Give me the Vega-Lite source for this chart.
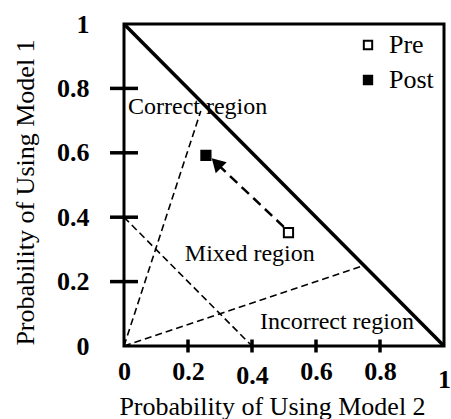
{
  "$schema": "https://vega.github.io/schema/vega-lite/v6.json",
  "autosize": "none",
  "width": 320,
  "height": 322,
  "padding": {"left": 124, "top": 24, "right": 7, "bottom": 73},
  "background": "white",
  "config": {
    "view": {"stroke": "black", "strokeWidth": 3},
    "font": "Liberation Serif"
  },
  "datasets": {
    "diag": [{"m2": 0, "m1": 1}, {"m2": 1, "m1": 0}],
    "dashed": [
      {"seg": "a", "m2": 0, "m1": 0}, {"seg": "a", "m2": 0.24, "m1": 0.73},
      {"seg": "b", "m2": 0, "m1": 0}, {"seg": "b", "m2": 0.75, "m1": 0.25},
      {"seg": "c", "m2": 0, "m1": 0.4}, {"seg": "c", "m2": 0.4, "m1": 0}
    ],
    "ticks": [{"v": 0.2}, {"v": 0.4}, {"v": 0.6}, {"v": 0.8}],
    "arrow": [{"m2": 0.514, "m1": 0.356}, {"m2": 0.295, "m1": 0.562}],
    "head": [{"m2": 0.289, "m1": 0.568}],
    "points": [
      {"phase": "Pre", "m2": 0.514, "m1": 0.352},
      {"phase": "Post", "m2": 0.256, "m1": 0.592}
    ],
    "labels": [
      {"label": "Correct region", "m2": 0.0125, "m1": 0.742},
      {"label": "Mixed region", "m2": 0.19, "m1": 0.286},
      {"label": "Incorrect region", "m2": 0.425, "m1": 0.075}
    ]
  },
  "layer": [
    {
      "data": {"name": "dashed"},
      "mark": {"type": "line", "color": "black", "strokeWidth": 1.6, "strokeDash": [7, 4]},
      "encoding": {
        "x": {
          "field": "m2", "type": "quantitative",
          "scale": {"domain": [0, 1], "nice": false, "zero": false},
          "axis": {
            "orient": "bottom",
            "values": [0, 0.2, 0.4, 0.6, 0.8, 1],
            "format": "~g",
            "domain": false,
            "grid": false,
            "ticks": false,
            "labelFont": "Liberation Serif",
            "labelFontWeight": "bold",
            "labelFontSize": 26,
            "labelColor": "black",
            "labelPadding": {"condition": [{"test": "datum.value == 1", "value": 20}, {"test": "datum.value == 0.4", "value": 16}], "value": 12},
            "labelFlush": false,
            "labelOverlap": false,
            "title": "Probability of Using Model 2",
            "titleFont": "Liberation Serif",
            "titleFontSize": 26,
            "titleFontWeight": "normal",
            "titleColor": "black",
            "titleBaseline": "middle",
            "titleAnchor": "middle",
            "titleX": 148,
            "titleY": 60
          }
        },
        "y": {
          "field": "m1", "type": "quantitative",
          "scale": {"domain": [0, 1], "nice": false, "zero": false},
          "axis": {
            "orient": "left",
            "values": [0, 0.2, 0.4, 0.6, 0.8, 1],
            "format": "~g",
            "domain": false,
            "grid": false,
            "ticks": false,
            "labelFont": "Liberation Serif",
            "labelFontWeight": "bold",
            "labelFontSize": 26,
            "labelColor": "black",
            "labelPadding": 35,
            "labelFlush": false,
            "labelOverlap": false,
            "title": "Probability of Using Model 1",
            "titleFont": "Liberation Serif",
            "titleFontSize": 26,
            "titleFontWeight": "normal",
            "titleColor": "black",
            "titleBaseline": "middle",
            "titleAnchor": "middle",
            "titleAngle": -90,
            "titleX": -99,
            "titleY": 168
          }
        },
        "detail": {"field": "seg", "type": "nominal"}
      }
    },
    {
      "data": {"name": "ticks"},
      "mark": {"type": "point", "shape": "stroke", "filled": false, "color": "black", "strokeWidth": 3.5, "size": 784, "opacity": 1, "clip": false},
      "encoding": {
        "x": {"datum": 0, "type": "quantitative"},
        "y": {"field": "v", "type": "quantitative"}
      }
    },
    {
      "data": {"name": "ticks"},
      "mark": {"type": "point", "shape": "stroke", "angle": 90, "filled": false, "color": "black", "strokeWidth": 3.5, "size": 169, "opacity": 1, "clip": false},
      "encoding": {
        "x": {"field": "v", "type": "quantitative"},
        "y": {"datum": 0, "type": "quantitative"}
      }
    },
    {
      "data": {"name": "diag"},
      "mark": {"type": "line", "color": "black", "strokeWidth": 3.5},
      "encoding": {
        "x": {"field": "m2", "type": "quantitative"},
        "y": {"field": "m1", "type": "quantitative"}
      }
    },
    {
      "data": {"name": "arrow"},
      "mark": {"type": "line", "color": "black", "strokeWidth": 2.5, "strokeDash": [10, 6]},
      "encoding": {
        "x": {"field": "m2", "type": "quantitative"},
        "y": {"field": "m1", "type": "quantitative"}
      }
    },
    {
      "data": {"name": "head"},
      "mark": {"type": "point", "shape": "triangle-up", "filled": true, "color": "black", "size": 240, "angle": 315, "opacity": 1},
      "encoding": {
        "x": {"field": "m2", "type": "quantitative"},
        "y": {"field": "m1", "type": "quantitative"}
      }
    },
    {
      "data": {"name": "points"},
      "mark": {"type": "point", "shape": "square", "filled": true, "stroke": "black", "strokeWidth": 2, "opacity": 1, "size": 85},
      "encoding": {
        "x": {"field": "m2", "type": "quantitative"},
        "y": {"field": "m1", "type": "quantitative"},
        "fill": {
          "field": "phase", "type": "nominal",
          "scale": {"domain": ["Pre", "Post"], "range": ["white", "black"]},
          "legend": {
            "title": null,
            "orient": "none",
            "legendX": 231,
            "legendY": 8,
            "padding": 0,
            "labelFont": "Liberation Serif",
            "labelFontSize": 26,
            "labelColor": "black",
            "labelOffset": 8,
            "rowPadding": 9,
            "symbolStrokeColor": "black",
            "symbolStrokeWidth": 2,
            "symbolSize": 70,
            "symbolType": "square"
          }
        }
      }
    },
    {
      "data": {"name": "labels"},
      "mark": {"type": "text", "align": "left", "baseline": "middle", "font": "Liberation Serif", "fontSize": 24, "color": "black"},
      "encoding": {
        "x": {"field": "m2", "type": "quantitative"},
        "y": {"field": "m1", "type": "quantitative"},
        "text": {"field": "label", "type": "nominal"}
      }
    }
  ]
}
